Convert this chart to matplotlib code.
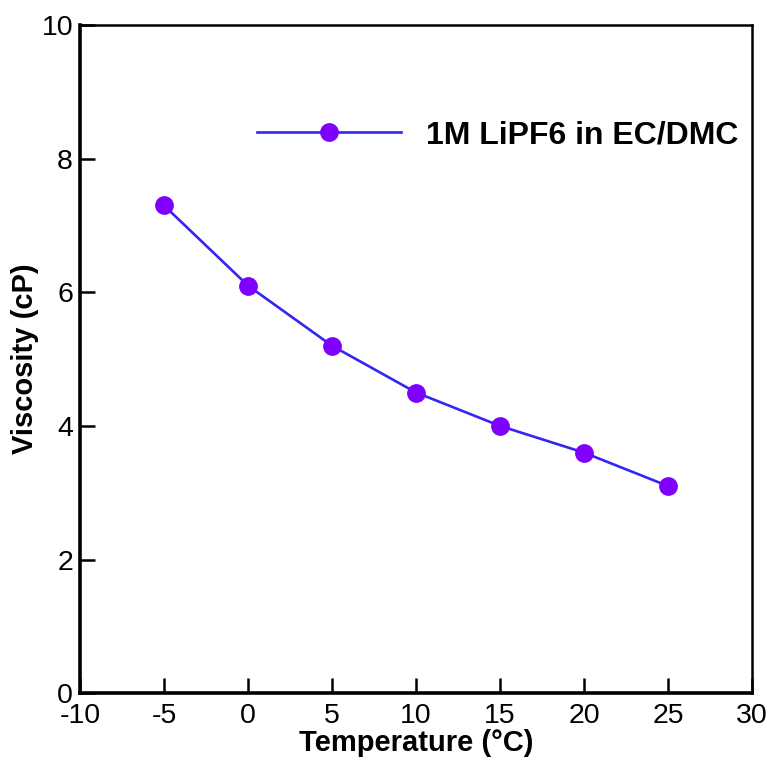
import numpy as np
import matplotlib.pyplot as plt

plt.rcParams['font.family'] = ['Liberation Sans', 'DejaVu Sans']
plt.rcParams['axes.unicode_minus'] = False

temperature = [-5, 0, 5, 10, 15, 20, 25]
viscosity = [7.3, 6.1, 5.2, 4.5, 4.0, 3.6, 3.1]
series_label = '1M LiPF6 in EC/DMC'

fig = plt.figure(figsize=(7.72, 7.6), dpi=100)
ax = fig.add_axes([0.1036, 0.088, 0.8705, 0.879])

ax.plot(temperature, viscosity, color='#3325f5', lw=1.9, marker='o',
        markersize=12.5, markerfacecolor='#7f00ff', markeredgecolor='#7f00ff',
        label=series_label)

ax.set_xlim(-10, 30)
ax.set_ylim(0, 10)
ax.set_xticks(np.arange(-10, 31, 5))
ax.set_yticks(np.arange(0, 11, 2))

ax.spines['left'].set_linewidth(2.6)
ax.spines['bottom'].set_linewidth(2.6)
ax.spines['top'].set_linewidth(1.8)
ax.spines['right'].set_linewidth(1.8)

ax.tick_params(direction='in', length=11, width=1.8, labelsize=20.5)
ax.tick_params(axis='x', pad=7)
ax.tick_params(axis='y', pad=5)

ax.set_xlabel('Temperature (°C)', fontsize=21, fontweight='bold', labelpad=0)
ax.set_ylabel('Viscosity (cP)', fontsize=21, fontweight='bold', labelpad=2)

leg = ax.legend(loc='center right', bbox_to_anchor=(0.979, 0.835), frameon=False,
                prop={'size': 23, 'weight': 'bold'}, handlelength=4.5,
                handletextpad=0.78, borderpad=0, borderaxespad=0)

fig.savefig('out.png', dpi=100)
